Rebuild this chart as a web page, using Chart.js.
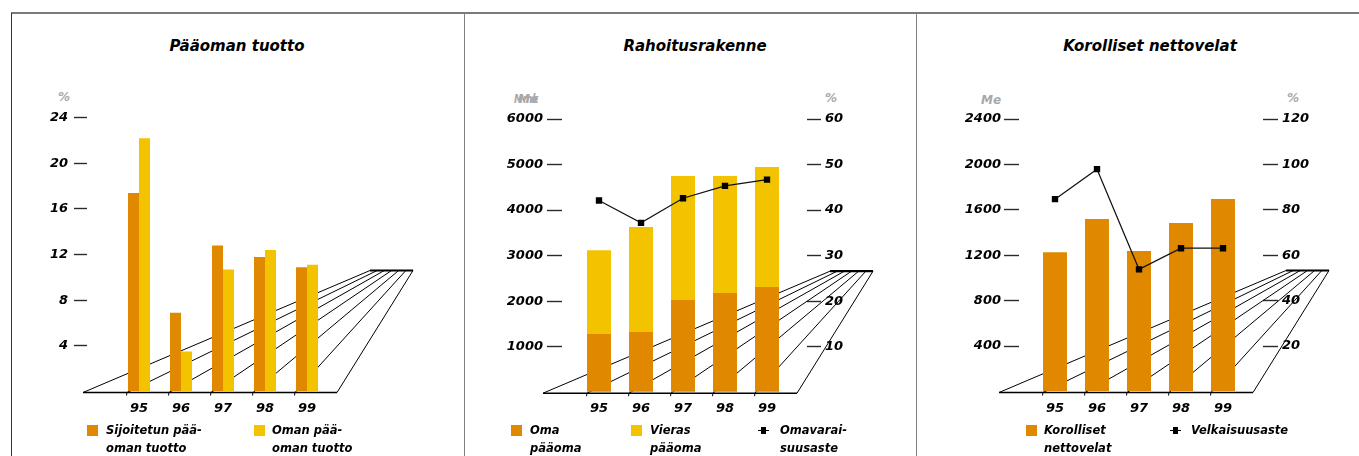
<!DOCTYPE html>
<html><head><meta charset="utf-8">
<script src="https://cdn.jsdelivr.net/npm/chart.js@4.4.1/dist/chart.umd.min.js"></script>
<style>
body{margin:0;width:1359px;height:456px;overflow:hidden;background:#fff;position:relative;font-family:'DejaVu Sans',sans-serif;}
canvas{position:absolute;left:0;top:0;}
.ln{position:absolute;}
.title{position:absolute;top:37px;font:italic bold 15px 'DejaVu Sans';color:#000;white-space:nowrap;line-height:18px;text-align:center;}
.unit{position:absolute;font:italic bold 12px 'DejaVu Sans';color:#a8a8a8;white-space:nowrap;line-height:14px;}
.sq{position:absolute;top:425px;width:11px;height:11px;}
.lt{position:absolute;top:422px;font:italic bold 11.5px 'DejaVu Sans';line-height:17.6px;color:#000;white-space:nowrap;}
.lm{position:absolute;top:430px;width:11px;height:1px;background:#000;}
.lm::after{content:'';position:absolute;left:3px;top:-3px;width:5px;height:7px;background:#000;}
</style>
</head><body>
<div class="ln" style="left:11px;top:12px;width:1348px;height:1.5px;background:#7a7a7a"></div>
<div class="ln" style="left:10.5px;top:13px;width:1.5px;height:443px;background:#333"></div>
<div class="ln" style="left:463.5px;top:13px;width:1.5px;height:443px;background:#808080"></div>
<div class="ln" style="left:915.5px;top:13px;width:1.5px;height:443px;background:#808080"></div>

<div class="title" style="left:137px;width:200px">Pääoman tuotto</div>
<div class="title" style="left:595px;width:200px">Rahoitusrakenne</div>
<div class="title" style="left:1030px;width:240px">Korolliset nettovelat</div>

<div class="unit" style="left:58px;top:90px">%</div>
<div class="unit" style="left:514px;top:92px;transform:scaleX(0.75);transform-origin:left">Mmk</div>
<div class="unit" style="left:518px;top:92px">Me</div>
<div class="unit" style="left:825px;top:91px">%</div>
<div class="unit" style="left:981px;top:93px">Me</div>
<div class="unit" style="left:1287px;top:91px">%</div>

<canvas id="c1" width="1359" height="456"></canvas>
<canvas id="c2" width="1359" height="456"></canvas>
<canvas id="c3" width="1359" height="456"></canvas>

<div class="sq" style="left:87px;background:#E08800"></div>
<div class="lt" style="left:106px">Sijoitetun pää-<br>oman tuotto</div>
<div class="sq" style="left:254px;background:#F3C300"></div>
<div class="lt" style="left:272px">Oman pää-<br>oman tuotto</div>

<div class="sq" style="left:511px;background:#E08800"></div>
<div class="lt" style="left:530px">Oma<br>pääoma</div>
<div class="sq" style="left:631px;background:#F3C300"></div>
<div class="lt" style="left:650px">Vieras<br>pääoma</div>
<div class="lm" style="left:758px"></div>
<div class="lt" style="left:780px">Omavarai-<br>suusaste</div>

<div class="sq" style="left:1026px;background:#E08800"></div>
<div class="lt" style="left:1044px">Korolliset<br>nettovelat</div>
<div class="lm" style="left:1170px"></div>
<div class="lt" style="left:1191px">Velkaisuusaste</div>

<script>
// ---- data ----
const years = ['95', '96', '97', '98', '99'];
const sijoitetunPaaomanTuotto = [17.4, 6.9, 12.8, 11.8, 10.9];
const omanPaaomanTuotto = [22.2, 3.5, 10.7, 12.4, 11.1];
const omaPaaoma = [1280, 1320, 2025, 2180, 2310];
const vierasPaaoma = [1840, 2310, 2725, 2570, 2635];
const omavaraisuusaste = [42.1, 37.2, 42.6, 45.3, 46.7];
const korollisetNettovelat = [1226, 1520, 1238, 1485, 1696];
const velkaisuusaste = [84.7, 97.9, 53.8, 63.1, 63.1];
const tuottoTicks = [0, 4, 8, 12, 16, 20, 24];
const rahoitusTicks = [0, 1000, 2000, 3000, 4000, 5000, 6000];
const omavaraisuusTicks = [0, 10, 20, 30, 40, 50, 60];
const velatTicks = [0, 400, 800, 1200, 1600, 2000, 2400];
const velkaisuusTicks = [0, 20, 40, 60, 80, 100, 120];

// ---- styling ----
const ORANGE = '#E08800', YELLOW = '#F3C300';
Chart.defaults.font.family = "'DejaVu Sans'";
const tickFont = {family: "'DejaVu Sans'", size: 13, weight: 'bold', style: 'italic'};

function valueAxis(pos, weight, width, vals, tl, pad) {
  return {
    type: 'linear', position: pos, weight: weight,
    min: vals[0], max: vals[vals.length - 1],
    afterBuildTicks: s => { s.ticks = vals.map(v => ({value: v})); },
    afterFit: s => { s.width = width; },
    grid: {display: true, drawOnChartArea: false, drawTicks: true, tickLength: tl, tickWidth: 1.4,
      tickColor: c => (c.tick && c.tick.value === 0) ? 'rgba(0,0,0,0)' : '#2a2a2a'},
    border: {display: false},
    ticks: {padding: pad, color: '#000', font: tickFont, callback: v => v === 0 ? '' : String(v)}
  };
}
function spacerAxis(pos, width) {
  return {
    type: 'linear', position: pos, weight: 0, display: true,
    afterFit: s => { s.width = width; },
    grid: {display: false, drawTicks: false}, border: {display: false}, ticks: {display: false}
  };
}
function catAxis(stacked) {
  return {
    type: 'category', offset: true, stacked: stacked,
    afterFit: s => { s.height = 30; },
    grid: {display: false, drawTicks: false}, border: {display: false},
    ticks: {padding: 9, color: '#000', font: tickFont, maxRotation: 0, autoSkip: false}
  };
}

const floorPlugin = {
  id: 'floor',
  beforeDatasetsDraw(chart) {
    const {ctx, chartArea: a} = chart;
    const x = chart.scales.x, y = chart.scales.y;
    const y0 = y.getPixelForValue(0) + 1;
    const yb = y0 - 122;
    const fl = a.left - 35, fr = a.right + 9;
    const bl = a.right + 42, br = a.right + 85;
    const bottoms = [fl];
    for (let i = 0; i < x.ticks.length; i++) bottoms.push(x.getPixelForValue(i) - 12);
    bottoms.push(fr);
    ctx.save();
    ctx.strokeStyle = '#000';
    ctx.lineWidth = 1;
    bottoms.forEach((bx, i) => {
      const tx = bl + (br - bl) * i / (bottoms.length - 1);
      ctx.beginPath(); ctx.moveTo(bx, y0); ctx.lineTo(tx, yb); ctx.stroke();
      if (i > 0 && i < bottoms.length - 1) {
        ctx.beginPath(); ctx.moveTo(bx, y0); ctx.lineTo(bx - 0.5, y0 + 3); ctx.stroke();
      }
    });
    ctx.lineWidth = 1.4;
    ctx.beginPath(); ctx.moveTo(fl, y0); ctx.lineTo(fr, y0); ctx.stroke();
    ctx.lineWidth = 2.2;
    ctx.beginPath(); ctx.moveTo(bl, yb); ctx.lineTo(br, yb); ctx.stroke();
    ctx.restore();
  }
};

const common = {
  responsive: false, animation: false, devicePixelRatio: 1,
  plugins: {legend: {display: false}, tooltip: {enabled: false}, title: {display: false}},
  events: []
};

function lineDs(label, data) {
  return {type: 'line', label: label, data: data, yAxisID: 'y2', order: 0,
    borderColor: '#111', borderWidth: 1.2, tension: 0,
    pointStyle: 'rect', pointRadius: 4.5, pointBackgroundColor: '#000', pointBorderWidth: 0};
}

// Panel 1
new Chart(document.getElementById('c1'), {
  type: 'bar',
  data: {labels: years, datasets: [
    {label: 'Sijoitetun pääoman tuotto', data: sijoitetunPaaomanTuotto, backgroundColor: ORANGE,
      categoryPercentage: 0.524, barPercentage: 1.0},
    {label: 'Oman pääoman tuotto', data: omanPaaomanTuotto, backgroundColor: YELLOW,
      categoryPercentage: 0.524, barPercentage: 1.0}
  ]},
  options: Object.assign({}, common, {
    layout: {padding: {left: 17, right: 1031, top: 117.7, bottom: 34.5}},
    scales: {
      x: catAxis(false),
      y: valueAxis('left', 10, 70, tuottoTicks, 13, 6),
      sL: spacerAxis('left', 31)
    }
  }),
  plugins: [floorPlugin]
});

// Panel 2
new Chart(document.getElementById('c2'), {
  type: 'bar',
  data: {labels: years, datasets: [
    {label: 'Oma pääoma', data: omaPaaoma, backgroundColor: ORANGE, order: 1,
      categoryPercentage: 0.571, barPercentage: 1.0},
    {label: 'Vieras pääoma', data: vierasPaaoma, backgroundColor: YELLOW, order: 1,
      categoryPercentage: 0.571, barPercentage: 1.0},
    lineDs('Omavaraisuusaste', omavaraisuusaste)
  ]},
  options: Object.assign({}, common, {
    layout: {padding: {left: 492, right: 492, top: 119, bottom: 33.8}},
    scales: {
      x: catAxis(true),
      y: Object.assign(valueAxis('left', 10, 70, rahoitusTicks, 15, 4), {stacked: true}),
      sL: spacerAxis('left', 16),
      y2: valueAxis('right', 10, 60, omavaraisuusTicks, 14, 4),
      sR: spacerAxis('right', 19)
    }
  }),
  plugins: [floorPlugin]
});

// Panel 3
new Chart(document.getElementById('c3'), {
  type: 'bar',
  data: {labels: years, datasets: [
    {label: 'Korolliset nettovelat', data: korollisetNettovelat, backgroundColor: ORANGE, order: 1,
      categoryPercentage: 0.571, barPercentage: 1.0},
    lineDs('Velkaisuusaste', velkaisuusaste)
  ]},
  options: Object.assign({}, common, {
    layout: {padding: {left: 949, right: 36, top: 119, bottom: 34.5}},
    scales: {
      x: catAxis(false),
      y: valueAxis('left', 10, 70, velatTicks, 15, 3),
      sL: spacerAxis('left', 15),
      y2: valueAxis('right', 10, 60, velkaisuusTicks, 15, 4),
      sR: spacerAxis('right', 19)
    }
  }),
  plugins: [floorPlugin]
});
</script>
</body></html>
